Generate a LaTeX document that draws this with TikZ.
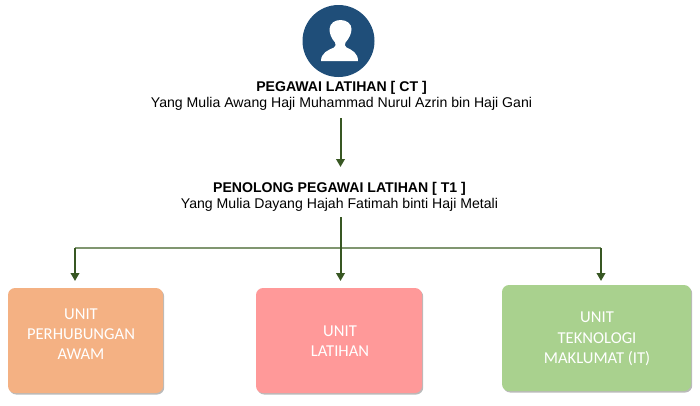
\documentclass[tikz,border=0pt]{standalone}
\usepackage{fontspec}
\setmainfont{Liberation Sans}
\newfontfamily\unitfont{Carlito}
\usepackage{tikz}
\usetikzlibrary{shadows,arrows.meta}
\definecolor{avatarblue}{RGB}{31,78,121}
\definecolor{linkgreen}{RGB}{56,87,35}
\definecolor{buslinegreen}{RGB}{128,150,112}
\definecolor{unitorange}{RGB}{244,177,131}
\definecolor{unitred}{RGB}{255,153,153}
\definecolor{unitgreen}{RGB}{169,209,142}
\tikzstyle{staff}=      [align=center,inner sep=0pt,text=black,font=\fontsize{14.1}{16.5}\selectfont]
\tikzstyle{unit}=       [rounded corners=7pt,inner sep=0pt,
                         drop shadow={shadow xshift=1.2pt,shadow yshift=-1.5pt,opacity=0.45,fill=black!60}]
\tikzstyle{unittext}=   [text=white,align=center,inner sep=0pt,font=\unitfont\fontsize{16.6}{20.3}\selectfont]
\tikzstyle{link}=       [color=linkgreen,line width=2pt,-{Triangle[length=8pt,width=8.5pt]}]
\tikzstyle{busline}=    [color=buslinegreen,line width=1.6pt]

\begin{document}
\begin{tikzpicture}[x=1pt,y=-1pt]
 \useasboundingbox (0,0) rectangle (700,405);

 % avatar
 \node[circle,fill=avatarblue,minimum size=72pt,inner sep=0pt] (avatar) at (338.5,41) {};
 \fill[white] (321,61) .. controls (321,53) and (328,50) .. (334,47.5)
   .. controls (336,46.5) and (336,44) .. (335,42.5)
   .. controls (331,38) and (329.5,33) .. (329.5,29)
   .. controls (330,23) and (335,20) .. (340.5,20)
   .. controls (347,20) and (351.5,24) .. (351.5,29)
   .. controls (351.5,33) and (349.5,38) .. (345.5,42.5)
   .. controls (344.5,44) and (344.5,46.5) .. (346.5,47.5)
   .. controls (352,50) and (358,53) .. (358,61) -- cycle;

 % staff
 \node[staff] (ct) at (341.5,96) {\textbf{PEGAWAI LATIHAN [ CT ]}\\Yang Mulia Awang Haji Muhammad Nurul Azrin bin Haji Gani};
 \node[staff] (t1) at (339.5,197) {\textbf{PENOLONG PEGAWAI LATIHAN [ T1 ]}\\Yang Mulia Dayang Hajah Fatimah binti Haji Metali};

 % units
 \node[unit,fill=unitorange,minimum width=155pt,minimum height=105pt] (perhubungan) at (85.5,340.5) {};
 \node[unit,fill=unitred,minimum width=166pt,minimum height=105pt] (latihan) at (339,340.5) {};
 \node[unit,fill=unitgreen,minimum width=189pt,minimum height=106pt] (teknologi) at (596.5,338) {};
 \node[unittext] (perhubunganText) at (81,334) {UNIT\\PERHUBUNGAN\\AWAM};
 \node[unittext] (latihanText) at (340,341.5) {UNIT\\LATIHAN};
 \node[unittext] (teknologiText) at (597,339) {UNIT\\TEKNOLOGI\\MAKLUMAT (IT)};

 % connectors
 \coordinate (busLeft) at (75,248);
 \coordinate (busRight) at (601,248);
 \coordinate (ctFoot) at (340.5,118);
 \coordinate (t1Head) at (340.5,167);
 \coordinate (t1Foot) at (340.5,217);
 \coordinate (leftTip) at (75,281);
 \coordinate (midTip) at (340.5,281);
 \coordinate (rightTip) at (601,281);
 \draw[busline] (busLeft) -- (busRight);
 \draw[link] (ctFoot) -- (t1Head);
 \draw[link] (t1Foot) -- (midTip);
 \draw[link] (busLeft) -- (leftTip);
 \draw[link] (busRight) -- (rightTip);
\end{tikzpicture}
\end{document}
